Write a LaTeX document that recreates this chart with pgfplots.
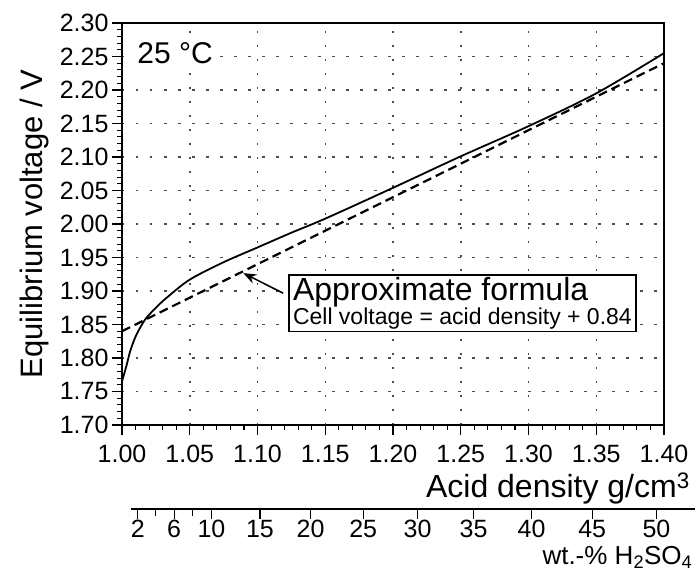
\documentclass[border=0pt]{standalone}
\usepackage{fontspec}
\setmainfont{Liberation Sans}
\usepackage{pgfplots}
\pgfplotsset{compat=1.18}
\usetikzlibrary{arrows.meta}

\begin{document}
\begin{tikzpicture}
\begin{axis}[
  name=main,
  scale only axis,
  width=542pt, height=402pt,
  xmin=1.00, xmax=1.40, ymin=1.70, ymax=2.30,
  xtick={1.00,1.05,...,1.40}, ytick={1.70,1.75,...,2.30},
  minor x tick num=4, minor y tick num=4,
  xtick pos=bottom, ytick pos=left,
  tick align=outside,
  major tick length=10pt, minor tick length=5pt,
  tick style={line width=1.1pt, black},
  axis line style={line width=1.6pt},
  xmajorgrids, ymajorgrids,
  grid style={black!70, line width=1.5pt, dash pattern=on 2.5pt off 11.5pt},
  ticklabel style={font=\fontsize{25}{25}\selectfont},
  xticklabel style={yshift=-7pt},
  /pgf/number format/.cd, fixed, fixed zerofill, precision=2, assume math mode=true,
  /pgfplots/.cd,
  ylabel={Equilibrium voltage / V},
  ylabel style={font=\fontsize{31}{31}\selectfont, at={(axis description cs:0,0.5)}, anchor=south, yshift=70pt},
  xlabel={Acid density g/cm\textsuperscript{3}},
  xlabel style={font=\fontsize{32}{32}\selectfont, at={(axis description cs:1,0)}, anchor=north east, inner sep=0pt, xshift=26pt, yshift=-48pt},
]
\addplot[black, line width=1.8pt, smooth, tension=0.5] coordinates {
  (1.000,1.765) (1.0035,1.790) (1.006,1.810) (1.0096,1.830) (1.0133,1.845)
  (1.018,1.860) (1.026,1.877) (1.033,1.890) (1.050,1.917) (1.075,1.943)
  (1.100,1.965) (1.125,1.987) (1.150,2.008) (1.200,2.054) (1.250,2.101)
  (1.300,2.146) (1.350,2.195) (1.400,2.255)
};
\addplot[black, line width=2.2pt, dash pattern=on 9pt off 5pt] coordinates {
  (1.00,1.84) (1.40,2.24)
};
\node[fill=white, inner sep=2pt, font=\fontsize{30}{30}\selectfont] at (axis cs:1.0392,2.2555) {25 °C};
\draw[line width=1.5pt, -{Stealth[length=13pt, width=10pt]}] (axis cs:1.119,1.8967) -- (axis cs:1.0895,1.9267);
\node[draw, line width=1.5pt, fill=white, anchor=north west, align=left, inner xsep=4pt, inner ysep=2pt]
  at (axis cs:1.1227,1.925)
  {{\fontsize{32}{33}\selectfont Approximate formula}\\{\fontsize{23}{24}\selectfont Cell voltage = acid density + 0.84}};
\end{axis}

\begin{axis}[
  at={(main.south west)}, anchor=south west, xshift=9.5pt, yshift=-84pt,
  scale only axis,
  width=564pt, height=1pt,
  xmin=1.007, xmax=1.424, ymin=0, ymax=1,
  axis x line=bottom, axis y line=none,
  x axis line style={-, line width=1.5pt},
  xtick={1.0116,1.0385,1.0661,1.1020,1.1394,1.1783,1.2185,1.2599,1.3028,1.3476,1.3951},
  xticklabels={2,6,10,15,20,25,30,35,40,45,50},
  minor xtick={1.0250,1.0522},
  tick align=outside,
  major tick length=10pt, minor tick length=7pt,
  tick style={line width=1.1pt, black},
  ticklabel style={font=\fontsize{25}{25}\selectfont, inner ysep=0pt},
  xticklabel style={yshift=-1pt},
  /pgf/number format/assume math mode=true,
  xlabel={wt.-\% H\textsubscript{2}SO\textsubscript{4}},
  xlabel style={font=\fontsize{26}{26}\selectfont, at={(axis description cs:1,0)}, anchor=north east, inner sep=0pt, xshift=-3pt, yshift=-37pt},
]
\addplot[draw=none] coordinates {(1.1,0.5)};
\end{axis}

\pgfresetboundingbox
\path (main.south west) ++(-122pt,-149pt) rectangle ++(695pt,574pt);
\end{tikzpicture}
\end{document}
